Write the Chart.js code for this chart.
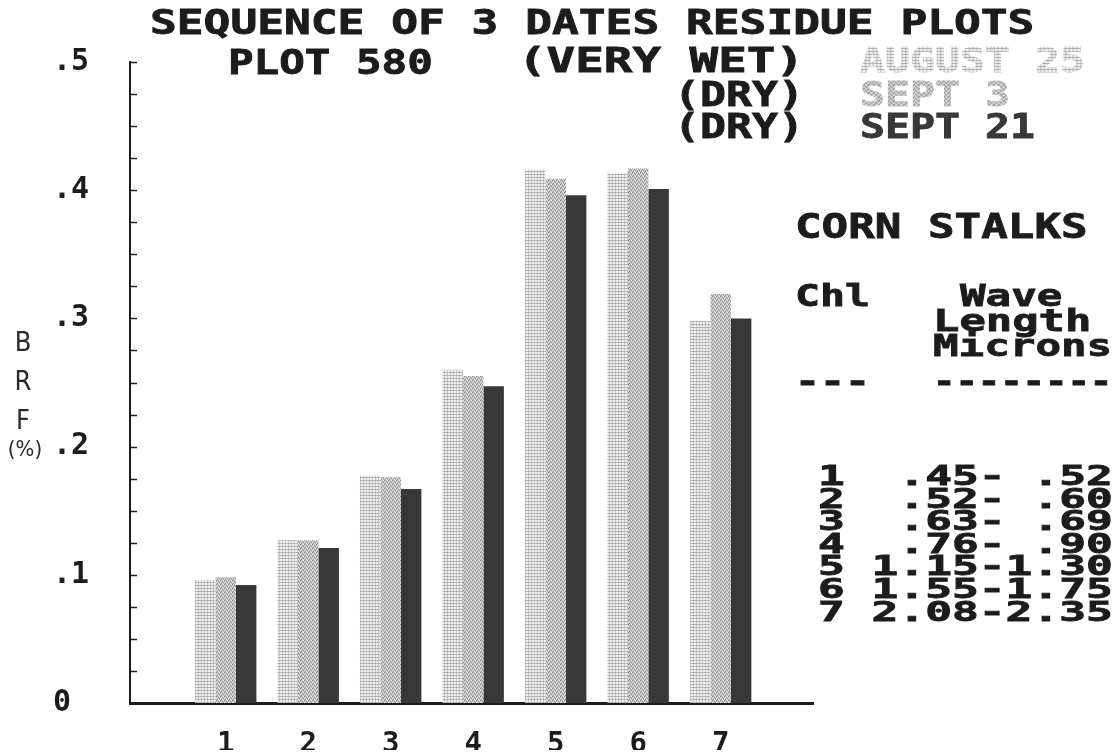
<!DOCTYPE html>
<html>
<head>
<meta charset="utf-8">
<title>Sequence of 3 dates residue plots</title>
<script src="https://cdn.jsdelivr.net/npm/chart.js@4.4.1/dist/chart.umd.min.js"></script>
<style>
    body { margin: 0; background: #ffffff; }
    #caixa { width: 1120px; height: 754px; position: relative; }
</style>
</head>
<body>
<div id="caixa"><canvas id="myChartCanvas"></canvas></div>
<script>
// dados
const channels = [1, 2, 3, 4, 5, 6, 7];
const aug25 = [0.096, 0.127, 0.177, 0.260, 0.416, 0.413, 0.298];
const sept3 = [0.098, 0.127, 0.176, 0.255, 0.409, 0.417, 0.319];
const sept21 = [0.092, 0.121, 0.167, 0.247, 0.396, 0.401, 0.300];
const dateLabels = ['AUGUST 25', 'SEPT 3', 'SEPT 21'];
const conditions = ['(VERY WET)', '(DRY)', '(DRY)'];
const waveLo = ['.45', '.52', '.63', '.76', '1.15', '1.55', '2.08'];
const waveHi = ['.52', '.60', '.69', '.90', '1.30', '1.75', '2.35'];

const MONO = '"DejaVu Sans Mono", "Liberation Mono", monospace';
const TINTA = '#1c1c1c';

// padroes de pontinhos das barras
function criarPadrao(tam, fundo, pontos) {
    var c = document.createElement('canvas');
    c.width = tam; c.height = tam;
    var g = c.getContext('2d');
    g.fillStyle = fundo;
    g.fillRect(0, 0, tam, tam);
    pontos.forEach(p => {
        g.fillStyle = p[2];
        g.fillRect(p[0], p[1], 1, 1);
    });
    return g.createPattern(c, 'repeat');
}

const padraoClaro = criarPadrao(3, '#f0f0f0', [
    [0, 0, '#a9a9a9'], [1, 0, '#bdbdbd'], [2, 0, '#b3b3b3'],
    [0, 1, '#c6c6c6'], [0, 2, '#c9c9c9']
]);
const padraoMedio = criarPadrao(4, '#c2c2c2', [
    [0, 0, '#8a8a8a'], [2, 1, '#959595'], [1, 3, '#8c8c8c'], [3, 2, '#9c9c9c'],
    [2, 3, '#e0e0e0'], [0, 2, '#dcdcdc'], [3, 0, '#e4e4e4'], [1, 1, '#d6d6d6']
]);
const corEscura = '#383838';
const coresSeries = [padraoClaro, padraoMedio, corEscura];

// texto monoespacado esticado, cada letra numa celula
function textoMono(ctx, str, x0, yc, adv, size, fill) {
    ctx.save();
    ctx.font = 'bold ' + size + 'px ' + MONO;
    ctx.fillStyle = fill;
    ctx.strokeStyle = fill;
    ctx.lineWidth = 0.8;
    ctx.textBaseline = 'middle';
    ctx.textAlign = 'center';
    var sx = adv / (0.602 * size);
    for (var i = 0; i < str.length; i++) {
        if (str[i] === ' ') continue;
        ctx.save();
        ctx.translate(x0 + (i + 0.5) * adv, yc);
        ctx.scale(sx, 1);
        ctx.fillText(str[i], 0, 0);
        ctx.strokeText(str[i], 0, 0);
        ctx.restore();
    }
    ctx.restore();
}

const textosPlugin = {
    id: 'textos',
    afterDraw(chart) {
        const ctx = chart.ctx;
        const y = chart.scales.y;

        // risquinhos do eixo y pra dentro
        ctx.save();
        ctx.strokeStyle = TINTA;
        ctx.lineWidth = 1.5;
        y.ticks.forEach(t => {
            var py = Math.round(y.getPixelForValue(t.value)) + 0.5;
            ctx.beginPath();
            ctx.moveTo(chart.chartArea.left, py);
            ctx.lineTo(chart.chartArea.left + 7, py);
            ctx.stroke();
        });
        ctx.restore();

        // titulo
        textoMono(ctx, 'SEQUENCE OF 3 DATES RESIDUE PLOTS', 150, 25, 26.8, 33, TINTA);
        textoMono(ctx, 'PLOT 580', 228, 65, 25.6, 33, TINTA);

        // condicoes e datas (legenda)
        var linhas = [63, 97, 129];
        conditions.forEach((c, i) => {
            var adv = i === 0 ? 28.6 : 26;
            textoMono(ctx, c, 804 - c.length * adv, linhas[i], adv, 33, TINTA);
        });
        chart.data.datasets.forEach((ds, i) => {
            textoMono(ctx, ds.label, 860, linhas[i], 25, 33, ds.backgroundColor);
        });

        // tabela dos canais
        textoMono(ctx, 'CORN STALKS', 795, 229, 26.6, 33, TINTA);
        textoMono(ctx, 'Chl', 795, 298, 25, 31, TINTA);
        textoMono(ctx, 'Wave', 960, 298, 25.6, 31, TINTA);
        textoMono(ctx, 'Length', 933, 323, 26.4, 31, TINTA);
        textoMono(ctx, 'Microns', 933, 348, 25.6, 31, TINTA);
        textoMono(ctx, '---', 795, 384, 25, 31, TINTA);
        textoMono(ctx, '--------', 933, 384, 22.4, 31, TINTA);
        channels.forEach((ch, i) => {
            var linha = ch + ' ' + waveLo[i].padStart(4) + '-' + waveHi[i].padStart(4);
            textoMono(ctx, linha, 818, 478 + i * 22.6, 26.8, 27, TINTA);
        });

        // titulo do eixo y, letras empilhadas
        ctx.save();
        ctx.font = '27px "DejaVu Sans Condensed", "DejaVu Sans", sans-serif';
        ctx.fillStyle = '#2a2a2a';
        ctx.textAlign = 'center';
        ctx.textBaseline = 'middle';
        ['B', 'R', 'F'].forEach((l, i) => ctx.fillText(l, 23, 344 + i * 39));
        ctx.font = '22px "DejaVu Sans Condensed", "DejaVu Sans", sans-serif';
        ctx.fillText('(%)', 25, 450);
        ctx.restore();
    }
};

function montarDados() {
    var series = [aug25, sept3, sept21];
    return {
        datasets: series.map((s, i) => ({
            label: dateLabels[i],
            data: s.map((v, k) => ({ x: channels[k], y: v })),
            backgroundColor: coresSeries[i],
            borderWidth: 0,
            categoryPercentage: 0.745,
            barPercentage: 1.0
        }))
    };
}

const config = {
    type: 'bar',
    data: montarDados(),
    options: {
        responsive: true,
        maintainAspectRatio: false,
        animation: false,
        layout: { padding: { top: 62, right: 307, bottom: 0, left: 0 } },
        plugins: {
            legend: { display: false },
            tooltip: { enabled: false },
            title: { display: false }
        },
        scales: {
            x: {
                type: 'linear',
                offset: false,
                min: -0.16,
                max: 8.12,
                grid: { display: false },
                border: { display: true, color: TINTA, width: 3 },
                afterBuildTicks: axis => {
                    axis.ticks = channels.map(v => ({ value: v }));
                },
                afterFit: axis => { axis.height = 47; },
                ticks: {
                    padding: 16,
                    autoSkip: false,
                    maxRotation: 0,
                    color: TINTA,
                    font: { family: MONO, size: 29, weight: 'bold' },
                    callback: v => String(v)
                }
            },
            y: {
                min: 0,
                max: 0.5,
                grid: { display: false },
                border: { display: true, color: TINTA, width: 2 },
                afterFit: axis => { axis.width = 130; },
                ticks: {
                    stepSize: 0.025,
                    autoSkip: false,
                    padding: 33,
                    color: TINTA,
                    font: { family: MONO, size: 30, weight: 'bold' },
                    callback: v => {
                        var d = v * 10;
                        if (Math.abs(d - Math.round(d)) > 1e-6) return '';
                        if (Math.round(d) === 0) return '0 ';
                        return '.' + Math.round(d);
                    }
                }
            }
        }
    },
    plugins: [textosPlugin]
};

let myChart = new Chart(document.getElementById('myChartCanvas'), config);
</script>
</body>
</html>
